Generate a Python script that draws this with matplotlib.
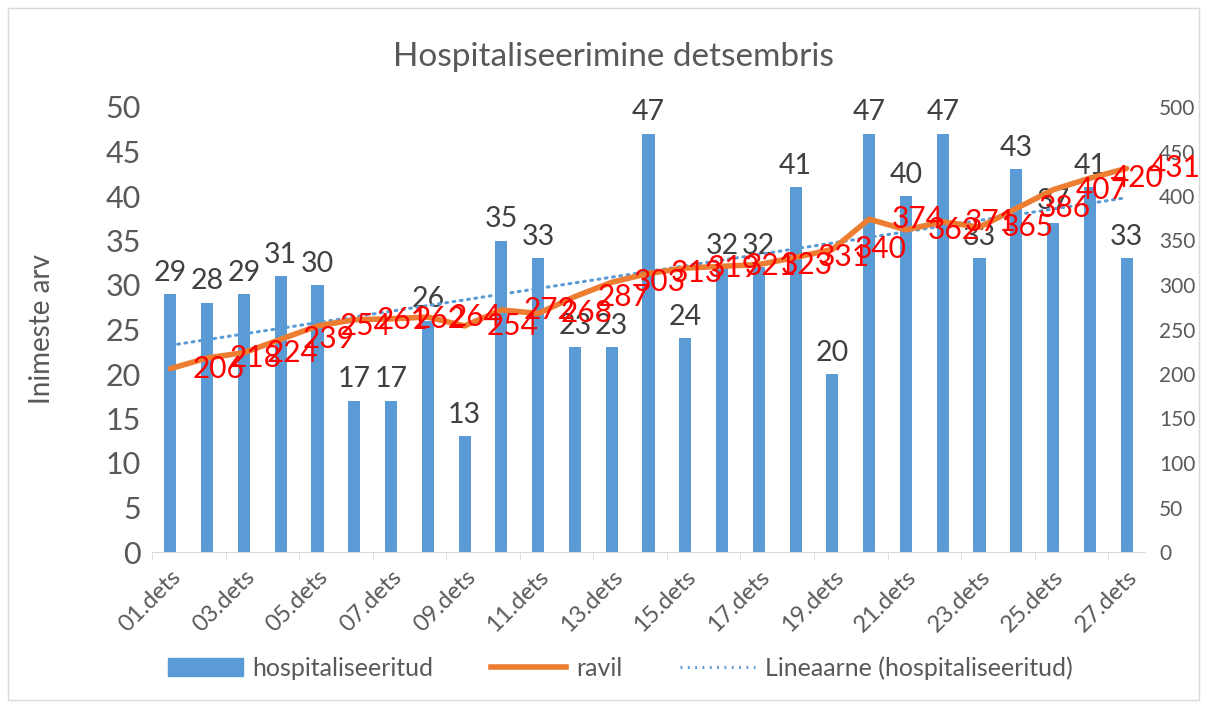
import matplotlib
matplotlib.use("Agg")
import matplotlib.pyplot as plt
import numpy as np
from matplotlib.patches import Rectangle
from matplotlib.lines import Line2D
from matplotlib.patches import Patch

days = [f"{d:02d}.dets" for d in range(1, 28)]
hospitaliseeritud = [29, 28, 29, 31, 30, 17, 17, 26, 13, 35, 33, 23, 23, 47, 24,
                     32, 32, 41, 20, 47, 40, 47, 33, 43, 37, 41, 33]
ravil = [206, 218, 224, 239, 254, 261, 262, 264, 254, 272, 268, 287, 303, 313, 319,
         321, 323, 331, 340, 374, 362, 371, 365, 386, 407, 420, 431]

BLUE = "#5B9BD5"
ORANGE = "#ED7D31"
GRAY = "#595959"
DARK = "#404040"
FONT = "Lato"
plt.rcParams['font.family'] = [FONT, 'DejaVu Sans']

fig = plt.figure(figsize=(12.07, 7.07), dpi=100)
fig.patches.append(Rectangle((8/1207, 7/707), 1191/1207, 692/707, transform=fig.transFigure,
                             fill=False, edgecolor="#D9D9D9", lw=1))
ax = fig.add_axes([152/1207, 1-552/707, (1145-152)/1207, (552-107)/707])
ax2 = ax.twinx()

x = np.arange(len(days))
ax.bar(x, hospitaliseeritud, width=0.33, color=BLUE, zorder=2)
for xi, v in zip(x, hospitaliseeritud):
    ax.annotate(str(v), (xi, v), xytext=(0, 6), textcoords="offset points",
                ha="center", va="bottom", fontsize=20.5, color=DARK)

# linear trend
coef = np.polyfit(x + 1, hospitaliseeritud, 1)
trend = np.polyval(coef, x + 1)
ax.plot(x, trend, color=BLUE, lw=2.2, linestyle=(0, (0.6, 1.8)), dash_capstyle="round", zorder=3)

ax2.plot(x, ravil, color=ORANGE, lw=4, solid_capstyle="round", zorder=4)
for xi, v in zip(x, ravil):
    ax2.annotate(str(v), (xi, v), xytext=(16, 0), textcoords="offset points",
                 ha="left", va="center", fontsize=21.5, color="red", zorder=5)

ax.set_xlim(-0.5, len(days) - 0.5)
ax.set_ylim(0, 50)
ax2.set_ylim(0, 500)
ax.set_yticks(np.arange(0, 51, 5))
ax2.set_yticks(np.arange(0, 501, 50))
ax.tick_params(axis="y", length=0, labelsize=22, labelcolor=GRAY, pad=8)
ax2.tick_params(axis="y", length=0, labelsize=15, labelcolor=GRAY, pad=10)

ax.set_xticks(x[::2])
ax.set_xticklabels(days[::2], rotation=45, ha="right", rotation_mode="anchor",
                   fontsize=17, color=GRAY)
ax.tick_params(axis="x", length=0, pad=10)
ax.set_xticks(np.arange(-0.5, len(days), 2), minor=True)
ax.tick_params(axis="x", which="minor", length=6, color="#D9D9D9")

for a in (ax, ax2):
    for s in ("top", "left", "right"):
        a.spines[s].set_visible(False)
    a.spines["bottom"].set_color("#D9D9D9")
ax2.spines["bottom"].set_visible(False)

ax.set_ylabel("Inimeste arv", fontsize=20, color=GRAY, labelpad=36)
fig.text(613/1207, 1-57/707, "Hospitaliseerimine detsembris", ha="center", va="center",
         fontsize=24, color=GRAY)

handles = [Patch(color=BLUE),
           Line2D([], [], color=ORANGE, lw=4),
           Line2D([], [], color=BLUE, lw=2.2, linestyle=(0, (0.6, 1.8)))]
labels = ["hospitaliseeritud", "ravil", "Lineaarne (hospitaliseeritud)"]
fig.legend(handles, labels, loc="center", bbox_to_anchor=(620/1207, 1-668/707), ncol=3,
           frameon=False, fontsize=18, labelcolor=GRAY, handlelength=3.0,
           columnspacing=2.3, handletextpad=0.4)

fig.savefig("out.png", dpi=100)
